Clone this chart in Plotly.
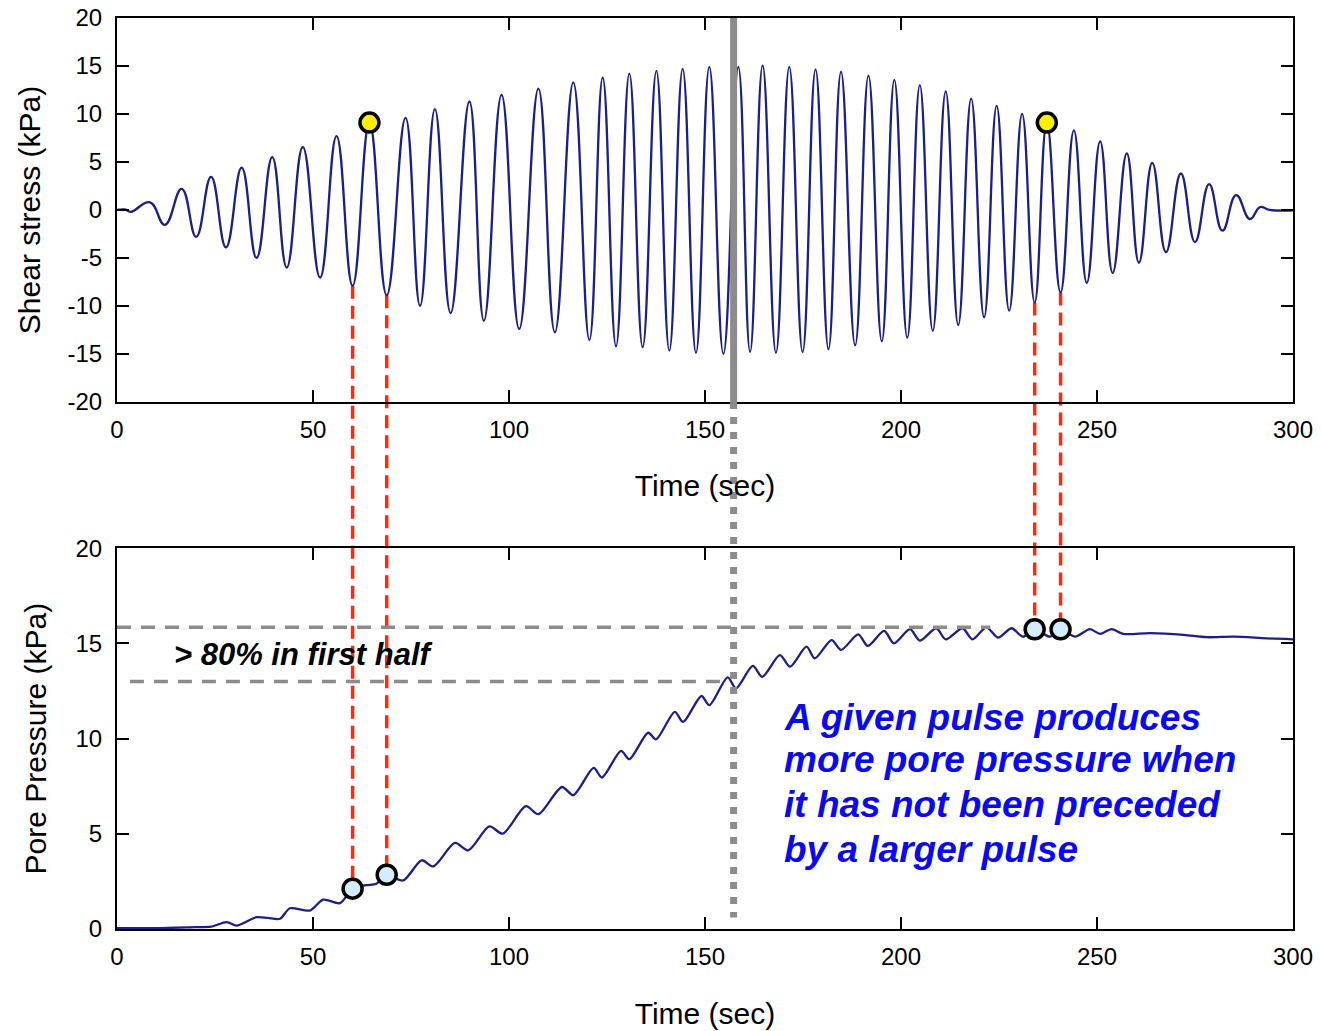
import plotly.graph_objects as go

# ---- Shear stress record: peak / trough readings (time s, stress kPa) ----
shear_t = [0, 2, 3.5, 8.4, 12.2, 16.5, 20.2, 24.0, 27.8, 31.8,
           35.6, 39.6, 43.3, 47.4, 51.8, 56.0, 60.1, 64.4, 68.8, 73.6,
           77.3, 81.1, 85.1, 89.9, 93.6, 98.1, 102.6, 107.5, 111.7, 116.4,
           120.5, 123.9, 127.3, 130.7, 134.1, 137.6, 140.9, 144.3, 147.7, 151.1,
           154.7, 158.5, 161.5, 164.7, 168.1, 171.5, 174.9, 178.2, 181.5, 184.7,
           188.3, 191.7, 195.1, 198.3, 201.6, 204.8, 208.1, 211.4, 214.6, 217.9,
           221.2, 224.4, 227.6, 230.9, 234.1, 237.2, 240.7, 244.1, 247.4, 250.8,
           254.0, 257.6, 260.7, 264.1, 267.6, 271.4, 275.0, 278.6, 282.0, 285.5,
           289.0, 291.6, 294.0, 300]
shear_v = [0, 0.05, -0.2, 0.8, -1.55, 2.2, -2.8, 3.45, -3.9, 4.4,
           -5.0, 5.5, -6.0, 6.55, -7.05, 7.7, -7.9, 9.1, -8.9, 9.6,
           -10.0, 10.5, -10.75, 11.3, -11.55, 12.0, -12.4, 12.65, -12.75, 13.3,
           -13.55, 13.8, -14.2, 14.2, -14.3, 14.5, -14.65, 14.7, -14.9, 14.9,
           -15.0, 14.9, -14.8, 15.05, -14.9, 14.9, -14.8, 14.65, -14.5, 14.4,
           -14.1, 14.0, -13.7, 13.55, -13.3, 13.0, -12.6, 12.35, -12.0, 11.6,
           -11.2, 10.85, -10.5, 10.0, -9.65, 9.1, -8.6, 8.3, -7.6, 7.15,
           -6.55, 5.9, -5.5, 4.9, -4.4, 3.8, -3.35, 2.7, -2.15, 1.55,
           -0.95, 0.3, 0.0, -0.05]

# ---- Pore pressure record (time s, pressure kPa) ----
pore_t = [0, 10, 20, 24, 28, 30.5, 35.6, 38.5, 41.6, 44.1,
          49.2, 52.6, 56.9, 60.1, 63.5, 66.2, 68.8, 73.0, 77.7, 80.7,
          86.2, 89.6, 95.0, 98.4, 104.3, 107.5, 113.5, 116.4, 121.6, 123.7,
          128.6, 130.7, 135.5, 137.5, 142.3, 144.4, 149.1, 151.1, 155.8, 157.9,
          162.2, 164.6, 169.1, 171.7, 175.9, 178.0, 182.3, 184.7, 189.1, 191.5,
          195.7, 198.2, 202.3, 204.8, 209.0, 211.4, 215.7, 218.2, 221.8, 224.8,
          228.2, 231.1, 234.1, 238.0, 240.7, 244.4, 248.2, 250.8, 253.7, 256.7,
          263.6, 272.1, 278.0, 284.9, 293.3, 300]
pore_v = [0.05, 0.05, 0.1, 0.12, 0.36, 0.18, 0.62, 0.58, 0.54, 1.09,
          0.97, 1.54, 1.36, 2.12, 2.3, 2.38, 2.85, 2.55, 3.61, 3.29,
          4.52, 4.13, 5.39, 5.01, 6.45, 6.03, 7.46, 7.03, 8.46, 7.96,
          9.36, 8.92, 10.31, 9.96, 11.41, 10.88, 12.24, 11.76, 13.22, 12.64,
          13.82, 13.25, 14.39, 13.78, 14.83, 14.22, 15.18, 14.66, 15.48, 14.87,
          15.66, 15.01, 15.75, 15.15, 15.8, 15.22, 15.8, 15.22, 15.85, 15.31,
          15.8, 15.36, 15.75, 15.36, 15.75, 15.36, 15.75, 15.5, 15.75, 15.5,
          15.54, 15.45, 15.33, 15.36, 15.27, 15.22]

# Highlighted pulses: compared peaks, and the troughs linked to pore pressure
peak_times = [64.4, 237.2]
pulse_times = [60.1, 68.8, 234.1, 240.7]

# Reference levels on the pore pressure panel
half_time = 157.3            # midpoint of the loading
final_level = 15.85          # pore pressure plateau
half_level = 13.0            # pore pressure reached at half time
final_level_end = 222.8
half_level_span = [3.3, 155.5]
half_marker_bottom = 0.6

x_ticks = [0, 50, 100, 150, 200, 250, 300]
shear_ticks = [-20, -15, -10, -5, 0, 5, 10, 15, 20]
shear_tick_labels = ["-20", "-15", "-10", "-5", "0", "5", "10", "15", "20"]
pore_ticks = [0, 5, 10, 15, 20]

note_left = "> 80% in first half"
note_right = ["A given pulse produces", "more pore pressure when",
              "it has not been preceded", "by a larger pulse"]

# ---- Styling ----
FONT = "Liberation Sans, Arial, sans-serif"
TRACE = "#1b1f86"
RED = "#ff2a0a"
GREY = "#8c8c8c"
BLUE = "#0a0aee"

X_RANGE = [0, 300]
SHEAR_RANGE = [-20, 20]
PORE_RANGE = [0, 20]
TOP_DOMAIN = [0.5786, 1.0]
BOTTOM_DOMAIN = [0.0, 0.4179]


def to_paper(value, domain, rng):
    """Map a y-axis value onto the figure's paper coordinates."""
    frac = (value - rng[0]) / (rng[1] - rng[0])
    return domain[0] + frac * (domain[1] - domain[0])


def shear_at(t):
    return shear_v[shear_t.index(t)]


def pore_at(t):
    return pore_v[pore_t.index(t)]


fig = go.Figure()

fig.add_trace(go.Scatter(
    x=shear_t, y=shear_v, mode="lines", xaxis="x", yaxis="y",
    line=dict(color=TRACE, width=2.3, shape="spline", smoothing=1.3),
    hoverinfo="skip", showlegend=False))

fig.add_trace(go.Scatter(
    x=pore_t, y=pore_v, mode="lines", xaxis="x2", yaxis="y2",
    line=dict(color=TRACE, width=2.3, shape="spline", smoothing=0.8),
    hoverinfo="skip", showlegend=False))

# Yellow markers on the compared peaks
fig.add_trace(go.Scatter(
    x=peak_times, y=[shear_at(t) for t in peak_times], mode="markers",
    xaxis="x", yaxis="y",
    marker=dict(size=19, color="#ffee00", line=dict(color="black", width=3.5)),
    hoverinfo="skip", showlegend=False))

# Light blue markers where each pulse shows up in pore pressure
fig.add_trace(go.Scatter(
    x=pulse_times, y=[pore_at(t) for t in pulse_times], mode="markers",
    xaxis="x2", yaxis="y2",
    marker=dict(size=19, color="#d4ecfa", line=dict(color="black", width=3.5)),
    hoverinfo="skip", showlegend=False))

shapes = []

# Red dashed connectors from shear troughs down to pore pressure markers
for t in pulse_times:
    shapes.append(dict(
        type="line", xref="x", yref="paper", layer="below",
        x0=t, x1=t,
        y0=to_paper(shear_at(t), TOP_DOMAIN, SHEAR_RANGE),
        y1=to_paper(pore_at(t), BOTTOM_DOMAIN, PORE_RANGE),
        line=dict(color=RED, width=3.5, dash="13px,7px")))

# Half-time marker: solid across the shear panel, dotted below it
shapes.append(dict(
    type="line", xref="x", yref="y", layer="above",
    x0=half_time, x1=half_time, y0=SHEAR_RANGE[0], y1=SHEAR_RANGE[1],
    line=dict(color=GREY, width=7)))
shapes.append(dict(
    type="line", xref="x", yref="paper", layer="above",
    x0=half_time, x1=half_time,
    y0=TOP_DOMAIN[0],
    y1=to_paper(half_marker_bottom, BOTTOM_DOMAIN, PORE_RANGE),
    line=dict(color=GREY, width=7, dash="7px,8px")))

# Pore pressure reference levels
shapes.append(dict(
    type="line", xref="x2", yref="y2", layer="above",
    x0=X_RANGE[0], x1=final_level_end, y0=final_level, y1=final_level,
    line=dict(color=GREY, width=3.5, dash="14px,10px")))
shapes.append(dict(
    type="line", xref="x2", yref="y2", layer="above",
    x0=half_level_span[0], x1=half_level_span[1], y0=half_level, y1=half_level,
    line=dict(color=GREY, width=3.5, dash="14px,10px")))

annotations = [dict(
    x=14.0, y=14.4, xref="x2", yref="y2", text="<b><i>" + note_left + "</i></b>",
    showarrow=False, xanchor="left", yanchor="middle",
    font=dict(family=FONT, size=31, color="black"))]

for line_text, y in zip(note_right, [11.13, 8.92, 6.55, 4.18]):
    annotations.append(dict(
        x=169.6, y=y, xref="x2", yref="y2", text="<b><i>" + line_text + "</i></b>",
        showarrow=False, xanchor="left", yanchor="middle",
        font=dict(family=FONT, size=37, color=BLUE)))

axis_common = dict(
    showline=True, linecolor="black", linewidth=2, mirror="ticks",
    ticks="inside", ticklen=12, tickwidth=1.5, tickcolor="black",
    showgrid=False, zeroline=False, automargin=False,
    tickfont=dict(family=FONT, size=24, color="black"),
)

fig.update_layout(
    width=1321, height=1031,
    margin=dict(l=117, r=28, t=18, b=102),
    paper_bgcolor="white", plot_bgcolor="rgba(0,0,0,0)",
    font=dict(family=FONT, color="black"),
    shapes=shapes, annotations=annotations,
    xaxis=dict(axis_common, domain=[0, 1], range=X_RANGE, tickvals=x_ticks,
               anchor="y", ticklabelstandoff=5,
               title=dict(text="Time (sec)", font=dict(family=FONT, size=30),
                          standoff=33)),
    yaxis=dict(axis_common, domain=TOP_DOMAIN, range=SHEAR_RANGE,
               tickvals=shear_ticks, ticktext=shear_tick_labels, anchor="x",
               ticklabelstandoff=8,
               title=dict(text="Shear stress (kPa)", font=dict(family=FONT, size=30),
                          standoff=18)),
    xaxis2=dict(axis_common, domain=[0, 1], range=X_RANGE, tickvals=x_ticks,
                anchor="y2", ticklabelstandoff=5,
                title=dict(text="Time (sec)", font=dict(family=FONT, size=30),
                           standoff=34)),
    yaxis2=dict(axis_common, domain=BOTTOM_DOMAIN, range=PORE_RANGE,
                tickvals=pore_ticks, anchor="x2", ticklabelstandoff=8,
                title=dict(text="Pore Pressure (kPa)", font=dict(family=FONT, size=30),
                           standoff=20)),
)

fig.write_html("out.html")
